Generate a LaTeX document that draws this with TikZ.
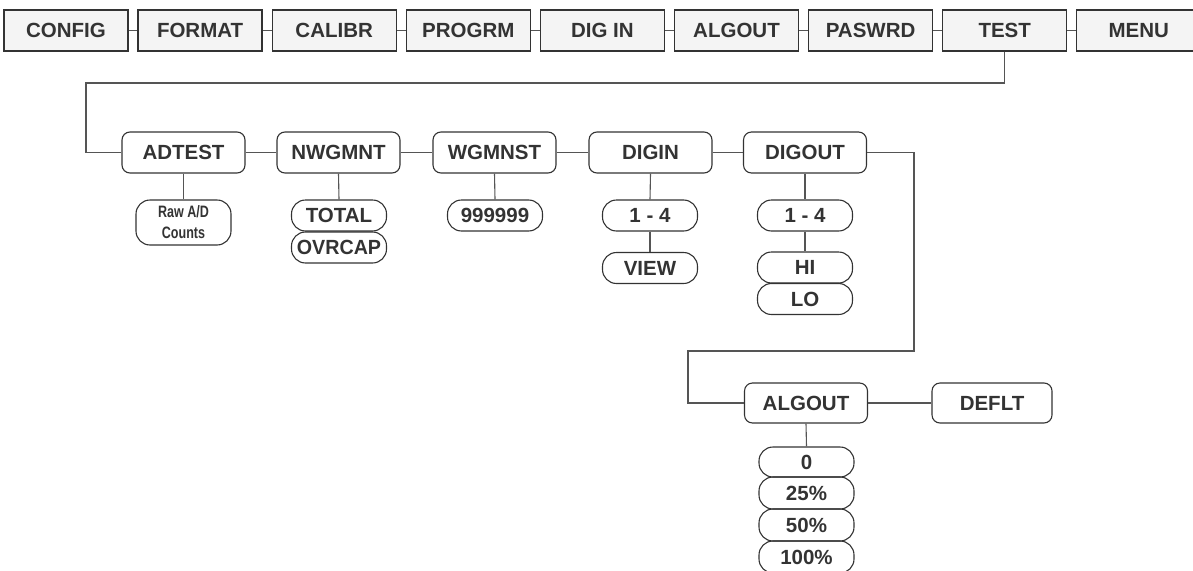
\documentclass[tikz,border=0pt]{standalone}
\usepackage{fontspec}
\setmainfont{Liberation Sans}
\definecolor{txt}{HTML}{333333}
\definecolor{edge}{HTML}{333333}
\definecolor{wire}{HTML}{555555}
\definecolor{topfill}{HTML}{F4F4F4}
\begin{document}
\begin{tikzpicture}[x=1pt,y=-1pt,
  every node/.style={text=txt,font=\fontsize{20.5}{24}\selectfont\bfseries,inner sep=0pt},
  topbox/.style={draw=edge,line width=1.3pt,fill=topfill,minimum width=124pt,minimum height=41pt},
  menubox/.style={draw=edge,line width=1.1pt,rounded corners=8pt,minimum width=123pt,minimum height=41pt},
  pill/.style={draw=edge,line width=1.1pt,rounded corners=14pt,minimum width=95pt,minimum height=31pt},
  wire/.style={draw=wire,line width=1.1pt}]
\useasboundingbox (0,0) rectangle (1193,570);
% top row
\node[topbox] (config) at (66,30.5) {CONFIG};
\node[topbox] (format) at (200.1,30.5) {FORMAT};
\node[topbox] (calibr) at (334.2,30.5) {CALIBR};
\node[topbox] (progrm) at (468.3,30.5) {PROGRM};
\node[topbox] (digin0) at (602.4,30.5) {DIG IN};
\node[topbox] (algout0) at (736.5,30.5) {ALGOUT};
\node[topbox] (paswrd) at (870.6,30.5) {PASWRD};
\node[topbox] (test) at (1004.7,30.5) {TEST};
\node[topbox] (menu) at (1138.8,30.5) {MENU};
\foreach \a/\b in {config/format,format/calibr,calibr/progrm,progrm/digin0,digin0/algout0,algout0/paswrd,paswrd/test,test/menu}
  \draw[wire] (\a.east) -- (\b.west);
% second row
\node[menubox] (adtest) at (183.5,152.5) {ADTEST};
\node[menubox] (nwgmnt) at (338.5,152.5) {NWGMNT};
\node[menubox] (wgmnst) at (494.5,152.5) {WGMNST};
\node[menubox] (digin) at (650.5,152.5) {DIGIN};
\node[menubox] (digout) at (805,152.5) {DIGOUT};
\foreach \a/\b in {adtest/nwgmnt,nwgmnt/wgmnst,wgmnst/digin,digin/digout}
  \draw[wire] (\a.east) -- (\b.west);
\coordinate (t1) at (1004.7,83);
\coordinate (t2) at (86,83);
\draw[wire] (test.south) -- (t1) -- (t2) |- (adtest.west);
% sub items
\node[pill,minimum height=45pt,align=center,font=\fontsize{16.5}{21}\selectfont\bfseries] (raw) at (183.5,222.5) {\scalebox{0.76}[1]{Raw A/D}\\\scalebox{0.76}[1]{Counts}};
\node[pill] (total) at (339,215.5) {TOTAL};
\node[pill] (ovrcap) at (339,247.5) {\scalebox{0.96}[1]{OVRCAP}};
\node[pill] (nines) at (495,215.5) {999999};
\node[pill] (dinr) at (650,215.5) {1 - 4};
\node[pill] (view) at (650,268) {VIEW};
\node[pill] (doutr) at (805,215.5) {1 - 4};
\node[pill] (hi) at (805,267.5) {HI};
\node[pill] (lo) at (805,299) {LO};
\draw[wire] (adtest.south) -- (raw.north);
\draw[wire] (nwgmnt.south) -- (total.north);
\draw[wire] (wgmnst.south) -- (nines.north);
\draw[wire] (digin.south) -- (dinr.north);
\draw[wire] (dinr.south) -- (view.north);
\draw[wire] (digout.south) -- (doutr.north);
\draw[wire] (doutr.south) -- (hi.north);
% third row
\node[menubox,minimum height=40pt] (algout) at (806,403) {ALGOUT};
\node[menubox,minimum width=120pt,minimum height=40pt] (deflt) at (992,403) {DEFLT};
\draw[wire] (algout.east) -- (deflt.west);
\coordinate (d1) at (914,152.5);
\coordinate (d2) at (914,351);
\coordinate (d3) at (688,351);
\draw[wire] (digout.east) -- (d1) -- (d2) -- (d3) |- (algout.west);
\node[pill,minimum height=30pt] (v0) at (806.5,462) {0};
\node[pill,minimum height=32pt] (v25) at (806.5,493) {25\%};
\node[pill,minimum height=32pt] (v50) at (806.5,525) {50\%};
\node[pill,minimum height=32pt] (v100) at (806.5,557) {100\%};
\draw[wire] (algout.south) -- (v0.north);
\end{tikzpicture}
\end{document}
